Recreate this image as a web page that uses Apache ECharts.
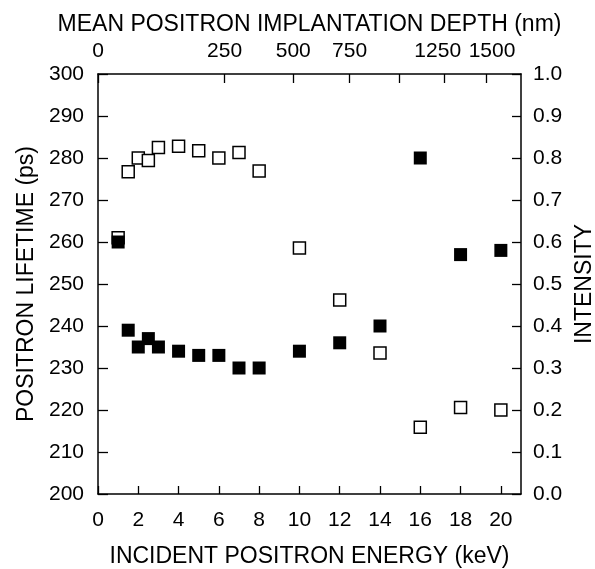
<!DOCTYPE html>
<html>
<head>
<meta charset="utf-8">
<script src="https://cdn.jsdelivr.net/npm/echarts@6/dist/echarts.min.js"></script>
<style>
html,body{margin:0;padding:0;background:#fff;}
#chart{width:595px;height:569px;}
</style>
</head>
<body>
<div id="chart"></div>
<script>
// Incident positron energy (keV)
var energy = [1, 1.5, 2, 2.5, 3, 4, 5, 6, 7, 8, 10, 12, 14, 16, 18, 20];
// Positron lifetime (ps) - filled squares
var lifetime = [260, 239, 235, 237, 235, 234, 233, 233, 230, 230, 234, 236, 240, 280, 257, 258];
// Intensity - open squares
var intensity = [0.61, 0.767, 0.80, 0.794, 0.825, 0.828, 0.817, 0.80, 0.813, 0.769, 0.586, 0.462, 0.336, 0.159, 0.206, 0.20];
// Top axis: mean implantation depth (nm)
var depthTicks = [0, 250, 500, 750, 1000, 1250, 1500];
var depthLabels = [0, 250, 500, 750, 1250, 1500];

var DEPTH_A = 13.2, DEPTH_N = 1.6;
function depthToEnergy(d) { return Math.pow(d / DEPTH_A, 1 / DEPTH_N); }
function energyToDepth(e) { return Math.round(DEPTH_A * Math.pow(e, DEPTH_N) / 250) * 250; }

var FONT = 'Liberation Sans, Arial, sans-serif';
var labelStyle = { color: '#000', fontSize: 21, fontFamily: FONT };
var nameStyle = { color: '#000', fontSize: 23, fontFamily: FONT };
var lineStyle = { color: '#000', width: 1.5 };
var tickStyle = { color: '#000', width: 1.3 };

var chart = echarts.init(document.getElementById('chart'), null, { renderer: 'canvas' });
chart.setOption({
  animation: false,
  backgroundColor: '#fff',
  grid: { left: 98, right: 74, top: 74, bottom: 75, containLabel: false, outerBoundsMode: 'none' },
  xAxis: [
    {
      type: 'value', position: 'bottom', min: 0, max: 21, interval: 2,
      name: 'INCIDENT POSITRON ENERGY (keV)', nameLocation: 'middle', nameGap: 51,
      nameTextStyle: nameStyle,
      axisLine: { show: true, onZero: false, lineStyle: lineStyle },
      axisTick: { show: true, inside: true, length: 8, lineStyle: tickStyle },
      axisLabel: Object.assign({ margin: 16, showMaxLabel: false, hideOverlap: false }, labelStyle),
      splitLine: { show: false }
    },
    {
      type: 'value', position: 'top', min: 0, max: 21,
      name: 'MEAN POSITRON IMPLANTATION DEPTH (nm)', nameLocation: 'middle', nameGap: 38,
      nameTextStyle: nameStyle,
      axisLine: { show: true, onZero: false, lineStyle: lineStyle },
      axisTick: { show: true, inside: true, length: 9, lineStyle: tickStyle, customValues: depthTicks.map(depthToEnergy) },
      axisLabel: Object.assign({
        margin: 12,
        hideOverlap: false,
        customValues: depthLabels.map(depthToEnergy),
        formatter: function (v) {
          var d = energyToDepth(v);
          if (d === 1250) return '{l|' + d + '}';
          if (d === 1500) return '{r|' + d + '}';
          return String(d);
        },
        rich: {
          l: { fontSize: 21, fontFamily: FONT, color: '#000', padding: [0, 13, 0, 0] },
          r: { fontSize: 21, fontFamily: FONT, color: '#000', padding: [0, 0, 0, 12] }
        }
      }, labelStyle),
      splitLine: { show: false }
    }
  ],
  yAxis: [
    {
      type: 'value', position: 'left', min: 200, max: 300, interval: 10,
      name: 'POSITRON LIFETIME (ps)', nameLocation: 'middle', nameGap: 55, nameRotate: 90,
      nameTextStyle: nameStyle,
      axisLine: { show: true, onZero: false, lineStyle: lineStyle },
      axisTick: { show: true, inside: true, length: 10, lineStyle: tickStyle },
      axisLabel: Object.assign({ margin: 14 }, labelStyle),
      splitLine: { show: false }
    },
    {
      type: 'value', position: 'right', min: 0, max: 1, interval: 0.1,
      name: 'INTENSITY', nameLocation: 'middle', nameGap: 52, nameRotate: 90,
      nameTextStyle: nameStyle,
      axisLine: { show: true, onZero: false, lineStyle: lineStyle },
      axisTick: { show: true, inside: true, length: 9, lineStyle: tickStyle },
      axisLabel: Object.assign({ margin: 12, formatter: function (v) { return v.toFixed(1); } }, labelStyle),
      splitLine: { show: false }
    }
  ],
  series: [
    {
      name: 'Intensity', type: 'scatter', xAxisIndex: 0, yAxisIndex: 1,
      symbol: 'rect', symbolSize: 12, z: 2,
      itemStyle: { color: '#fff', borderColor: '#000', borderWidth: 1.5, opacity: 1 },
      data: energy.map(function (e, i) { return [e, intensity[i]]; })
    },
    {
      name: 'Lifetime', type: 'scatter', xAxisIndex: 0, yAxisIndex: 0,
      symbol: 'rect', symbolSize: 13, z: 3,
      itemStyle: { color: '#000', opacity: 1 },
      data: energy.map(function (e, i) { return [e, lifetime[i]]; })
    }
  ]
});
</script>
</body>
</html>
